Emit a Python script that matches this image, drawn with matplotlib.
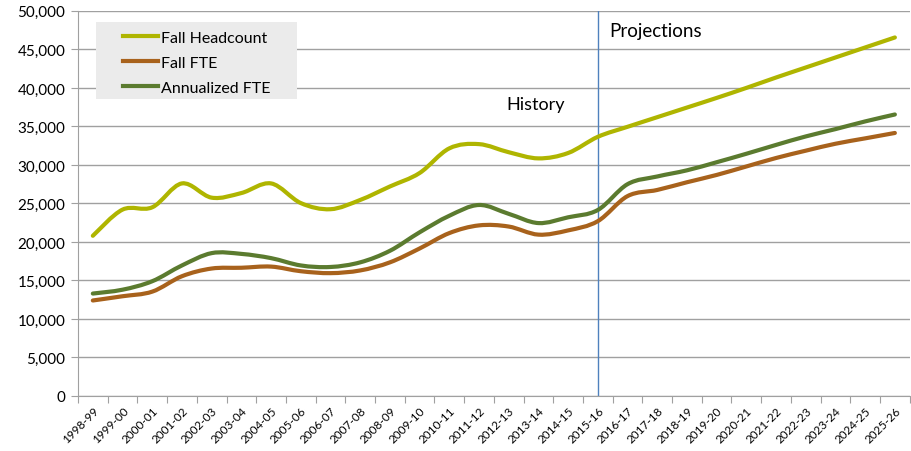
import matplotlib
matplotlib.use('Agg')
import matplotlib.pyplot as plt
from matplotlib.path import Path
from matplotlib.patches import PathPatch, Rectangle
from matplotlib.lines import Line2D
from matplotlib.ticker import FuncFormatter, FixedLocator
import numpy as np

plt.rcParams['font.family'] = ['Lato', 'DejaVu Sans']

years = ['1998-99', '1999-00', '2000-01', '2001-02', '2002-03', '2003-04', '2004-05',
         '2005-06', '2006-07', '2007-08', '2008-09', '2009-10', '2010-11', '2011-12',
         '2012-13', '2013-14', '2014-15', '2015-16', '2016-17', '2017-18', '2018-19',
         '2019-20', '2020-21', '2021-22', '2022-23', '2023-24', '2024-25', '2025-26']

headcount = [20800, 24200, 24500, 27600, 25750, 26350, 27600, 25050, 24250, 25450,
             27200, 28950, 32150, 32700, 31650, 30850, 31550, 33650, 34950, 36200,
             37450, 38700, 40000, 41350, 42650, 43950, 45250, 46550]
fall_fte = [12400, 12950, 13550, 15550, 16550, 16650, 16800, 16200, 15950, 16300,
            17350, 19150, 21150, 22150, 22000, 20950, 21500, 22700, 25950, 26750,
            27750, 28700, 29800, 30900, 31850, 32750, 33450, 34150]
annual_fte = [13300, 13800, 14900, 16950, 18550, 18450, 17900, 16950, 16750, 17350,
              18850, 21250, 23400, 24800, 23650, 22450, 23200, 24150, 27500, 28500,
              29300, 30350, 31450, 32600, 33700, 34650, 35650, 36550]

series = [('Fall Headcount', headcount, '#AFB500'),
          ('Fall FTE', fall_fte, '#A8621C'),
          ('Annualized FTE', annual_fte, '#5B7B2F')]

split_year = '2015-16'


def smooth_path(xs, ys):
    # excel style smoothed line: cubic bezier through every point
    pts = np.column_stack([xs, ys]).astype(float)
    ext = np.vstack([pts[0], pts, pts[-1]])
    verts = [pts[0]]
    codes = [Path.MOVETO]
    for i in range(len(pts) - 1):
        p0, p1, p2, p3 = ext[i], ext[i + 1], ext[i + 2], ext[i + 3]
        verts += [p1 + (p2 - p0) / 6, p2 - (p3 - p1) / 6, p2]
        codes += [Path.CURVE4] * 3
    return Path(verts, codes)


fig = plt.figure(figsize=(9.11, 4.52), dpi=100)
ax = fig.add_axes([0.0856, 0.1217, 0.913, 0.852])

x = np.arange(len(years))
handles = []
for name, vals, col in series:
    ax.add_patch(PathPatch(smooth_path(x, vals), fill=False, edgecolor=col,
                           lw=3, capstyle='round', zorder=3))
    handles.append(Line2D([], [], color=col, lw=3))

ax.set_xlim(-0.5, len(years) - 0.5)
ax.set_ylim(0, 50000)
ax.set_yticks(np.arange(0, 50001, 5000))
ax.yaxis.set_major_formatter(FuncFormatter(lambda v, p: f'{int(v):,}'))
ax.yaxis.grid(True, color='#A0A0A0', lw=1.0)
ax.set_axisbelow(True)

ax.xaxis.set_major_locator(FixedLocator(np.arange(-0.5, len(years), 1)))
ax.xaxis.set_major_formatter(FuncFormatter(lambda v, p: ''))
ax.set_xticks(x, minor=True)
ax.set_xticklabels(years, minor=True, rotation=45, ha='right', rotation_mode='anchor',
                   fontsize=8.5)
ax.tick_params(axis='x', which='minor', length=0, pad=6)
ax.tick_params(axis='x', which='major', length=5, color='#A0A0A0')
ax.tick_params(axis='y', length=5, color='#A0A0A0', labelsize=11, pad=4)

for s in ['top', 'right']:
    ax.spines[s].set_visible(False)
ax.spines['left'].set_color('#A0A0A0')
ax.spines['bottom'].set_color('#A0A0A0')

sx = years.index(split_year)
ax.axvline(sx, color='#4F81BD', lw=1.0, zorder=2)
ax.text(sx - 2.1, 37900, 'History', fontsize=13, ha='center', va='center')
ax.text(sx + 0.38, 47500, 'Projections', fontsize=13.5, ha='left', va='center')

# legend box drawn by hand so the padding can be wider than tall
ax.add_patch(Rectangle((0.0216, 0.7714), 0.2416, 0.2, transform=ax.transAxes,
                       facecolor='#EBEBEB', edgecolor='none', zorder=4))
leg = ax.legend(handles, [s[0] for s in series], loc='upper left',
                bbox_to_anchor=(0.054, 0.949), fontsize=11.5, frameon=False,
                handlelength=2.2, handletextpad=0.2, labelspacing=0.68,
                borderpad=0, borderaxespad=0)
leg.set_zorder(5)

fig.savefig('out.png', dpi=100)
